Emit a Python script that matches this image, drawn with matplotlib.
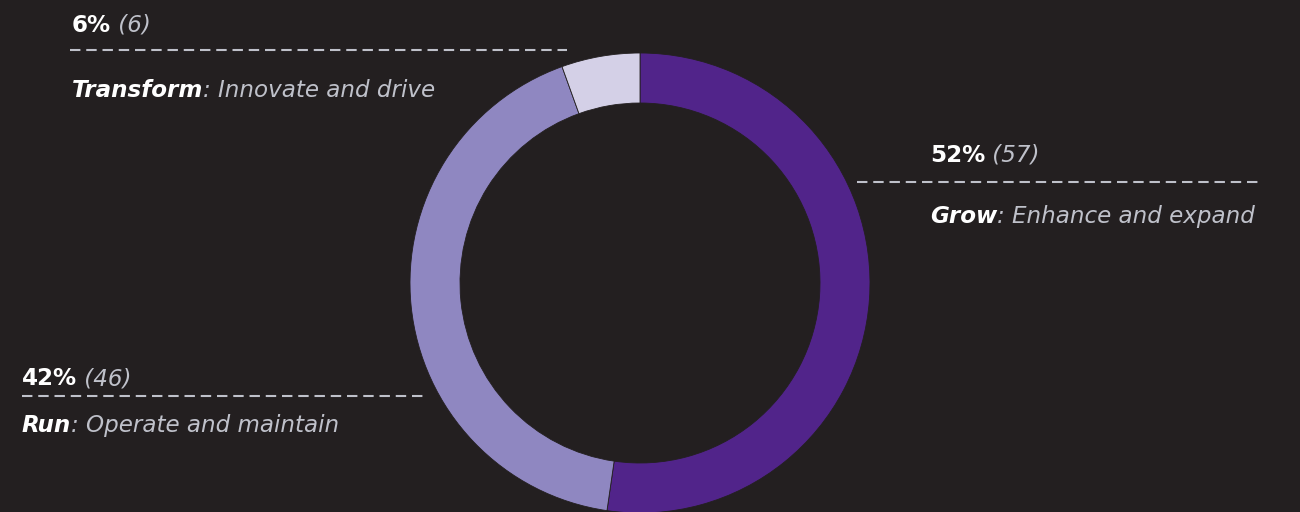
import matplotlib.pyplot as plt

# segment data, clockwise from the top
labels = ['Grow', 'Run', 'Transform']
counts = [57, 46, 6]
descriptions = ['Enhance and expand', 'Operate and maintain', 'Innovate and drive']
colors = ['#51248a', '#8f87c1', '#d4d0e7']

bg = '#231f20'
grey = '#bfc1ca'
font = 'DejaVu Sans'
size = 16.6

# label block anchors (x, baseline of value row, dashed line y, baseline of name row, line end x, line start x)
layout = {
    'Grow': (930, 350, 330, 289, 1262, 857),
    'Run': (22, 127, 116, 80, 425, 22),
    'Transform': (72, 480, 462, 415, 567, 70),
}

fig = plt.figure(figsize=(13, 5.12), dpi=100, facecolor=bg)
ax = fig.add_axes([0, 0, 1, 1])
ax.set_facecolor(bg)

ax.pie(counts, colors=colors, startangle=90, counterclock=False,
       radius=230, center=(640, 229),
       wedgeprops=dict(width=50, edgecolor=bg, linewidth=0.6))
ax.set_xlim(0, 1300)
ax.set_ylim(0, 512)
ax.set_aspect('auto')
ax.axis('off')

renderer = fig.canvas.get_renderer()


def write(x, y, parts):
    # draw a row of differently styled text pieces one after another
    for s, weight, style, color in parts:
        t = ax.text(x, y, s, fontsize=size, family=font, fontweight=weight,
                    fontstyle=style, color=color, va='baseline', ha='left')
        bb = t.get_window_extent(renderer=renderer)
        x += bb.width
    return x


total = sum(counts)
for name, n, desc in zip(labels, counts, descriptions):
    tx, y1, yl, y2, xe, xs = layout[name]
    pct = round(n / total * 100)
    write(tx, y1, [(f'{pct}%', 'bold', 'normal', 'white'),
                   (f' ({n})', 'normal', 'italic', grey)])
    ax.plot([xs, xe], [yl, yl], color=grey, lw=1.5, linestyle=(0, (5, 2.8)),
            dash_capstyle='butt')
    write(tx, y2, [(name, 'bold', 'italic', 'white'),
                   (f': {desc}', 'normal', 'italic', grey)])

fig.savefig('out.png', dpi=100, facecolor=bg)
